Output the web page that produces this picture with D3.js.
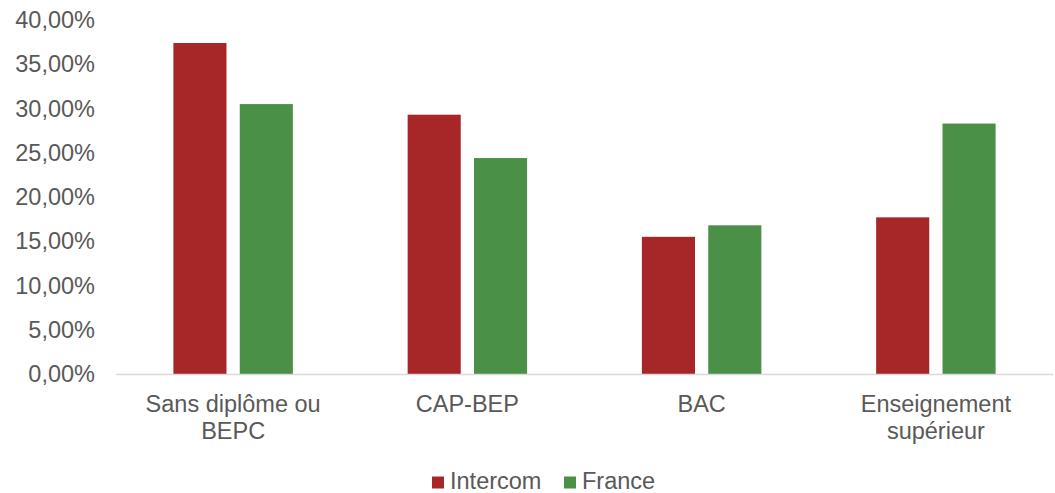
<!DOCTYPE html>
<html>
<head>
<meta charset="utf-8">
<script src="https://cdn.jsdelivr.net/npm/d3@7"></script>
<style>
  body { margin: 0; background: #fff; }
  text { font-family: "Liberation Sans", Arial, sans-serif; fill: #595959; }
</style>
</head>
<body>
<div id="chart"></div>
<script>
const categories = ["Sans diplôme ou BEPC", "CAP-BEP", "BAC", "Enseignement supérieur"];
const seriesNames = ["Intercom", "France"];
const intercomValues = [0.374, 0.293, 0.155, 0.177];
const franceValues = [0.305, 0.244, 0.168, 0.283];
const yTicks = [0, 0.05, 0.10, 0.15, 0.20, 0.25, 0.30, 0.35, 0.40];
const colors = ["#a72628", "#4a9047"];

const width = 1055, height = 493;
const margin = { left: 116, right: 1053, top: 20, bottom: 374 };
const fontSize = "23.5px";

const frLocale = d3.formatLocale({ decimal: ",", thousands: " ", grouping: [3], currency: ["", " €"] });
const pct = frLocale.format(".2%");

const rows = categories.map((c, i) => ({ cat: c, values: [intercomValues[i], franceValues[i]] }));

const svg = d3.select("#chart").append("svg")
    .attr("width", width)
    .attr("height", height);

const y = d3.scaleLinear().domain([0, 0.4]).range([margin.bottom, margin.top]);

const x0 = d3.scaleBand()
    .domain(categories)
    .range([margin.left, margin.right])
    .paddingInner(0.49)
    .paddingOuter(0.245);

const x1 = d3.scaleBand()
    .domain(seriesNames)
    .range([0, x0.bandwidth()])
    .paddingInner(0.2);

// y axis labels
const yAxis = svg.append("g")
    .attr("transform", `translate(${margin.left},0)`)
    .call(d3.axisLeft(y).tickValues(yTicks).tickFormat(pct).tickSize(0).tickPadding(21));
yAxis.select(".domain").remove();
yAxis.selectAll("text")
    .style("font-size", fontSize)
    .style("font-family", "'Liberation Sans', Arial, sans-serif")
    .attr("fill", "#595959");

// bars
const groups = svg.append("g").selectAll("g")
    .data(rows)
    .join("g")
    .attr("transform", d => `translate(${x0(d.cat)},0)`);

groups.selectAll("rect")
    .data(d => d.values.map((v, i) => ({ key: seriesNames[i], value: v, i })))
    .join("rect")
    .attr("x", d => x1(d.key))
    .attr("y", d => y(d.value))
    .attr("width", x1.bandwidth())
    .attr("height", d => y(0) - y(d.value))
    .attr("fill", d => colors[d.i]);

// x axis line
svg.append("line")
    .attr("x1", margin.left).attr("x2", margin.right)
    .attr("y1", y(0) + 0.5).attr("y2", y(0) + 0.5)
    .attr("stroke", "#d9d9d9")
    .attr("stroke-width", 1.5);

// category labels with wrapping
const catLabels = svg.append("g").selectAll("text")
    .data(categories)
    .join("text")
    .attr("x", d => x0(d) + x0.bandwidth() / 2)
    .attr("y", 412)
    .attr("text-anchor", "middle")
    .style("font-size", fontSize);

catLabels.each(function(d) {
    const t = d3.select(this);
    const words = d.split(" ");
    const cx = t.attr("x");
    let line = [];
    let tspan = t.append("tspan").attr("x", cx).attr("dy", 0);
    words.forEach(w => {
        line.push(w);
        tspan.text(line.join(" "));
        if (tspan.node().getComputedTextLength() > 200 && line.length > 1) {
            line.pop();
            tspan.text(line.join(" "));
            line = [w];
            tspan = t.append("tspan").attr("x", cx).attr("dy", 26.6).text(w);
        }
    });
});

// legend
const legend = svg.append("g");
const legendX = [432, 564];
seriesNames.forEach((s, i) => {
    legend.append("rect")
        .attr("x", legendX[i]).attr("y", 476.5)
        .attr("width", 12).attr("height", 12)
        .attr("fill", colors[i]);
    legend.append("text")
        .attr("x", legendX[i] + 18).attr("y", 489)
        .style("font-size", fontSize)
        .text(s);
});
</script>
</body>
</html>
